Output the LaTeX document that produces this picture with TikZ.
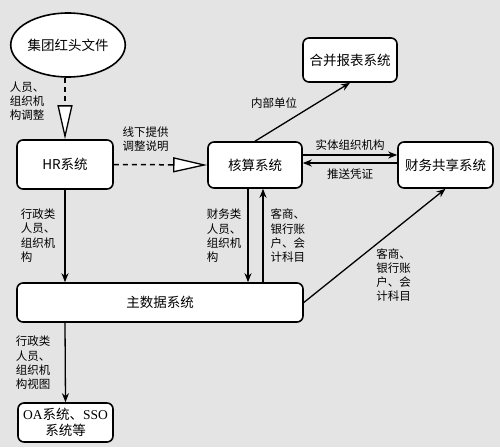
\documentclass[tikz,border=0pt]{standalone}
\usepackage{fontspec}
\setmainfont{Noto Sans CJK SC}
\newfontfamily\latinserif{Liberation Serif}
\usetikzlibrary{positioning, arrows.meta, shapes.geometric, calc}
\definecolor{paper}{HTML}{E4E4E4}

\begin{document}
\begin{tikzpicture}[x=1pt, y=-1pt,
            sys/.style={rectangle, draw, line width=1.6pt, rounded corners=6pt, fill=white,
                        font=\fontsize{13.5}{16}\selectfont, align=center, inner sep=0pt},
            doctag/.style={ellipse, draw, line width=1.6pt, fill=white, inner sep=0pt,
                        font=\fontsize{13.5}{16}\selectfont},
            lbl/.style={font=\fontsize{11.5}{14.3}\selectfont, align=left, inner sep=0pt},
            flow/.style={-{Stealth[length=9pt, width=7pt]}, line width=1.3pt},
            hint/.style={line width=1.5pt, dash pattern=on 5pt off 4pt,
                        -{Triangle[length=34pt, width=15pt, fill=white, line width=1.3pt]}},
        ]
            \useasboundingbox[fill=paper] (0,0) rectangle (500,447);

            % Systems
            \node[doctag, minimum width=98pt, minimum height=64pt] (doc) at (68,45) {集团红头文件};
            \node[sys, minimum width=96pt, minimum height=49pt] (hr) at (65,164.5) {HR系统};
            \node[sys, minimum width=94pt, minimum height=46pt] (acct) at (255,165) {核算系统};
            \node[sys, minimum width=94pt, minimum height=44pt] (merge) at (350,60) {合并报表系统};
            \node[sys, minimum width=95pt, minimum height=46pt] (fssc) at (445.5,165) {财务共享系统};
            \node[sys, minimum width=286pt, minimum height=39pt] (mdm) at (160,302.5) {主数据系统};
            \node[sys, minimum width=95pt, minimum height=39pt] (oa) at (65.5,422.5)
                {{\latinserif OA}系统、{\latinserif SSO}\\系统等};

            % Offline hand-over
            \draw[hint] (hr.north |- doc.south) -- node[lbl, pos=0.05, anchor=north east, xshift=-20pt] {人员、\\组织机\\构调整} (hr.north);
            \draw[hint] (hr.east) -- node[lbl, pos=0.34, above=12pt] {线下提供\\调整说明} (acct.west);

            % Master data flows
            \coordinate (acctdown) at ($(acct.south)+(-7,0)$);
            \coordinate (acctup) at ($(acct.south)+(8,0)$);
            \draw[flow] (hr.south) -- node[lbl, pos=0.2, anchor=north east, xshift=-9pt] {行政类\\人员、\\组织机\\构} (hr.south |- mdm.north);
            \draw[flow] (acctdown) -- node[lbl, pos=0.21, anchor=north east, xshift=-6pt] {财务类\\人员、\\组织机\\构} (acctdown |- mdm.north);
            \draw[flow] (acctup |- mdm.north) -- node[lbl, pos=0.79, anchor=north west, xshift=7pt] {客商、\\银行账\\户、会\\计科目} (acctup);
            \draw[flow] (mdm.south -| hr.south) -- node[lbl, pos=0.16, anchor=north east, xshift=-14pt] {行政类\\人员、\\组织机\\构视图} (oa.north);
            \draw[flow] (mdm.east) -- node[lbl, pos=0.5, anchor=north west, xshift=1pt, yshift=-2pt] {客商、\\银行账\\户、会\\计科目} (fssc.south);

            % Accounting links
            \draw[flow] (acct.north) -- node[lbl, pos=0.65, left=19pt] {内部单位} (merge.south);
            \draw[flow] ($(acct.east)+(0,-10)$) -- node[lbl, midway, above=4pt] {实体组织机构} ($(fssc.west)+(0,-10)$);
            \draw[flow] ($(fssc.west)+(0,-2)$) -- node[lbl, midway, below=5pt] {推送凭证} ($(acct.east)+(0,-2)$);
        \end{tikzpicture}
\end{document}
